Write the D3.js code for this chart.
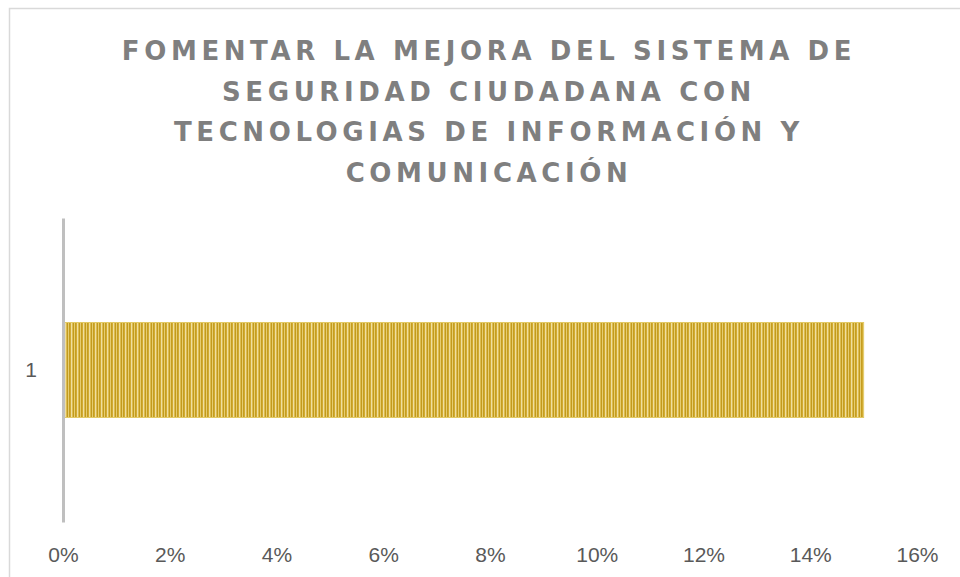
<!DOCTYPE html>
<html>
<head>
<meta charset="utf-8">
<script src="https://cdn.jsdelivr.net/npm/d3@7"></script>
<style>
  html, body { margin: 0; padding: 0; background: #fff; }
  svg { display: block; }
</style>
</head>
<body>
<svg id="chart"></svg>
<script>
// data
const categories = ['1'];
const values = [0.15];
const xTicks = [0, 0.02, 0.04, 0.06, 0.08, 0.10, 0.12, 0.14, 0.16];
const titleLines = [
    'FOMENTAR LA MEJORA DEL SISTEMA DE',
    'SEGURIDAD CIUDADANA CON',
    'TECNOLOGIAS DE INFORMACIÓN Y',
    'COMUNICACIÓN'
];

// dimensions
const W = 960, H = 577;
const margin = { top: 218, right: 43, bottom: 55, left: 63 };
const width = W - margin.left - margin.right;
const height = H - margin.top - margin.bottom;

const svg = d3.select('#chart')
    .attr('width', W)
    .attr('height', H);

// outer frame
svg.append('rect')
    .attr('x', 9.5).attr('y', 8.5)
    .attr('width', W).attr('height', H)
    .attr('fill', 'none')
    .attr('stroke', '#d9d9d9')
    .attr('stroke-width', 1.5);

// striped fill
const defs = svg.append('defs');
const pat = defs.append('pattern')
    .attr('id', 'stripes')
    .attr('patternUnits', 'userSpaceOnUse')
    .attr('width', 6).attr('height', 10);
const stripeCols = ['#c59d20', '#d1ab33', '#efdea0', '#dcbc50', '#c29a1e', '#e6cd70'];
stripeCols.forEach((c, i) => {
    pat.append('rect').attr('x', i).attr('y', 0).attr('width', 1).attr('height', 10).attr('fill', c);
});

// title
const title = svg.append('text')
    .attr('text-anchor', 'middle')
    .style('font-family', '"DejaVu Sans", sans-serif')
    .style('font-weight', 'bold')
    .style('font-size', '26px')
    .style('letter-spacing', '4.6px')
    .attr('fill', '#7f7f7f');
titleLines.forEach((t, i) => {
    title.append('tspan')
        .attr('x', 489)
        .attr('y', 60 + i * 40.5)
        .text(t);
});

const g = svg.append('g')
    .attr('transform', `translate(${margin.left},${margin.top})`);

const x = d3.scaleLinear().domain([0, 0.16]).range([0, width]);
const y = d3.scaleBand().domain(categories).range([0, height]).paddingInner(0).paddingOuter(1.1);

// bar
g.selectAll('.bar')
    .data(values)
    .enter()
    .append('rect')
    .attr('class', 'bar')
    .attr('x', 1)
    .attr('y', (d, i) => y(categories[i]))
    .attr('width', d => x(d) - 1)
    .attr('height', y.bandwidth())
    .attr('fill', 'url(#stripes)')
    .attr('stroke', '#e2c965')
    .attr('stroke-width', 1);

// x axis labels
const xAxis = g.append('g')
    .attr('transform', `translate(0, ${height})`)
    .call(d3.axisBottom(x).tickValues(xTicks).tickFormat(d3.format('.0%')).tickSize(0).tickPadding(25));
xAxis.select('.domain').remove();
xAxis.selectAll('text')
    .style('font-family', '"Liberation Sans", sans-serif')
    .style('font-size', '21px')
    .attr('fill', '#595959');

// y axis
const yAxis = g.append('g')
    .call(d3.axisLeft(y).tickSize(0).tickPadding(26));
yAxis.select('.domain')
    .attr('stroke', '#bfbfbf')
    .attr('stroke-width', 3);
yAxis.selectAll('text')
    .style('font-family', '"Liberation Sans", sans-serif')
    .style('font-size', '21px')
    .attr('fill', '#595959');
</script>
</body>
</html>
